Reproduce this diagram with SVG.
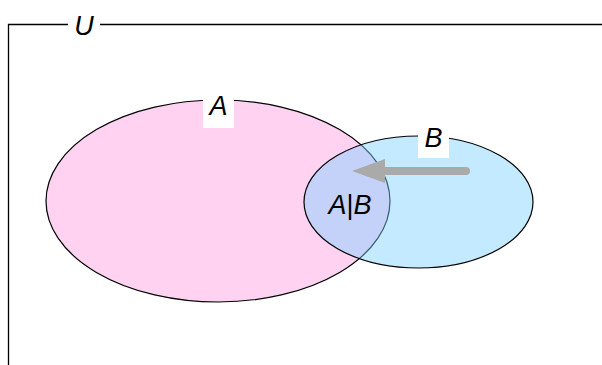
<svg xmlns="http://www.w3.org/2000/svg" width="602" height="365" viewBox="0 0 602 365">
<style>
text{font-family:"Liberation Sans",Arial,sans-serif;font-size:27px;font-style:italic;fill:#000;text-anchor:middle}
.up{font-style:normal}
.set{stroke:#000;stroke-width:1.2}
.lbl{fill:#fff;stroke:none}
.arrow{fill:#aaaaaa}
</style>
<rect width="602" height="365" fill="#fff"/>
<g id="universe">
<path d="M8.5,365 V24.5 H68 M100,24.5 H602" fill="none" stroke="#000" stroke-width="1.3"/>
<text x="84" y="34.5">U</text>
</g>
<g id="setA">
<ellipse class="set" cx="218" cy="201" rx="172" ry="101" fill="#ffd2f2"/>
</g>
<g id="setB">
<ellipse class="set" cx="418.5" cy="202" rx="114.5" ry="66" fill="#7dd0ff" fill-opacity="0.45"/>
</g>
<g id="labelA">
<rect class="lbl" x="203" y="94" width="31" height="34"/>
<text x="218.5" y="114.5">A</text>
</g>
<g id="labelB">
<rect class="lbl" x="418" y="126" width="31" height="32"/>
<text x="433.5" y="146.5">B</text>
</g>
<g id="connectors">
<line x1="466" y1="171" x2="384" y2="171" stroke="#aaaaaa" stroke-width="8" stroke-linecap="round"/>
<path class="arrow" d="M352,171 L385,159 L385,183 Z"/>
</g>
<g id="labelAB">
<text x="350" y="214">A<tspan class="up">|</tspan>B</text>
</g>
</svg>
